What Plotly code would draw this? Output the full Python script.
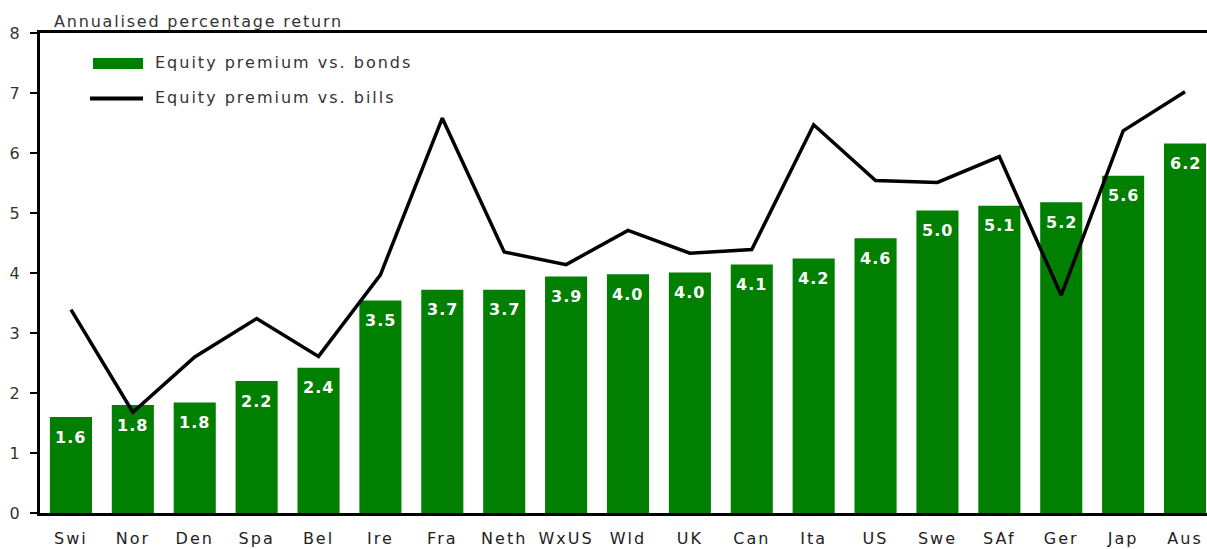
import plotly.graph_objects as go

# Markets, ordered by the equity premium over bonds
countries = ["Swi", "Nor", "Den", "Spa", "Bel", "Ire", "Fra", "Neth", "WxUS", "Wld",
             "UK", "Can", "Ita", "US", "Swe", "SAf", "Ger", "Jap", "Aus"]
# Annualised equity premium vs. bonds (%)
premium_bonds = [1.6, 1.8, 1.84, 2.2, 2.42, 3.54, 3.72, 3.72, 3.94, 3.98,
                 4.01, 4.14, 4.24, 4.58, 5.04, 5.12, 5.18, 5.62, 6.16]
# Annualised equity premium vs. bills (%)
premium_bills = [3.39, 1.68, 2.6, 3.24, 2.61, 3.97, 6.58, 4.35, 4.14, 4.71,
                 4.33, 4.39, 6.47, 5.54, 5.51, 5.94, 3.63, 6.37, 7.02]
y_ticks = [0, 1, 2, 3, 4, 5, 6, 7, 8]

GREEN = "#007f00"
FONT = "DejaVu Sans"
TEXT = "#333333"

W, H = 1207, 549
L, R, T, B = 40, 0, 33, 36
plot_w = W - L - R
plot_h = H - T - B


def px_x(p):
    return (p - L) / plot_w


def px_y(p):
    return (H - B - p) / plot_h


def spaced(s, px):
    return f'<span style="letter-spacing:{px}px">{s}</span>'


fig = go.Figure()
fig.add_trace(go.Bar(
    x=countries, y=premium_bonds, name="Equity premium vs. bonds",
    marker=dict(color=GREEN, line=dict(width=0)),
    showlegend=False,
))
fig.add_trace(go.Scatter(
    x=countries, y=premium_bills, name="Equity premium vs. bills",
    mode="lines", line=dict(color="black", width=3.5),
    showlegend=False,
))

annotations = []
# Value labels just inside the top of each bar
for c, v in zip(countries, premium_bonds):
    annotations.append(dict(
        x=c, y=v, xref="x", yref="y", text=spaced(f"{v:.1f}", 1),
        showarrow=False, yanchor="middle", yshift=-20,
        font=dict(family=FONT, size=16, color="white", weight="bold"),
    ))

# Axis caption
annotations.append(dict(
    x=px_x(52), y=px_y(21), xref="paper", yref="paper",
    text=spaced("Annualised percentage return", 1.8), showarrow=False,
    xanchor="left", yanchor="middle",
    font=dict(family=FONT, size=16, color=TEXT),
))

# Hand-drawn legend
annotations.append(dict(
    x=px_x(153), y=px_y(62), xref="paper", yref="paper",
    text=spaced("Equity premium vs. bonds", 2), showarrow=False,
    xanchor="left", yanchor="middle",
    font=dict(family=FONT, size=16, color=TEXT),
))
annotations.append(dict(
    x=px_x(153), y=px_y(98), xref="paper", yref="paper",
    text=spaced("Equity premium vs. bills", 2), showarrow=False,
    xanchor="left", yanchor="middle",
    font=dict(family=FONT, size=16, color=TEXT),
))

shapes = [
    dict(type="rect", xref="paper", yref="paper",
         x0=px_x(93), x1=px_x(143), y0=px_y(69), y1=px_y(58),
         fillcolor=GREEN, line=dict(width=0)),
    dict(type="line", xref="paper", yref="paper",
         x0=px_x(90), x1=px_x(143), y0=px_y(98.5), y1=px_y(98.5),
         line=dict(color="black", width=4)),
]

# Last category sits right at the edge of the canvas
x_max = 18.355

fig.update_layout(
    width=W, height=H,
    margin=dict(l=L, r=R, t=T, b=B, pad=0),
    paper_bgcolor="white", plot_bgcolor="white",
    bargap=0.32,
    font=dict(family=FONT, size=16, color=TEXT),
    annotations=annotations,
    shapes=shapes,
    xaxis=dict(
        range=[-0.5, x_max], showgrid=False, zeroline=False, automargin=False,
        showline=True, linecolor="black", linewidth=3, mirror=True,
        ticks="", ticklabelstandoff=9,
        tickvals=countries, ticktext=[spaced(c, 2) for c in countries],
        tickfont=dict(family=FONT, size=16, color="#222222"),
    ),
    yaxis=dict(
        range=[0, 8], tickvals=y_ticks, showgrid=False, zeroline=False,
        automargin=False,
        showline=True, linecolor="black", linewidth=3,
        ticks="outside", ticklen=7, tickwidth=2, tickcolor="black",
        ticklabelstandoff=7,
        tickfont=dict(family=FONT, size=16, color=TEXT),
    ),
)

fig.write_html("out.html")
